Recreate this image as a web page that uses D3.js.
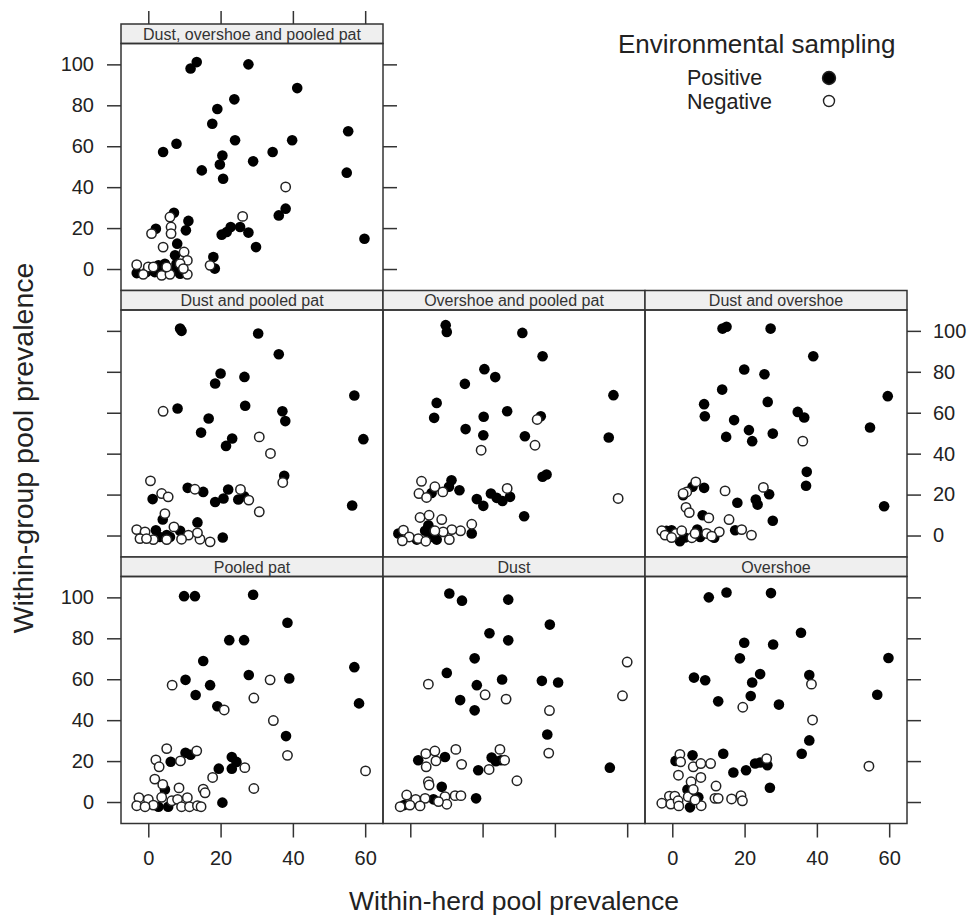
<!DOCTYPE html>
<html>
<head>
<meta charset="utf-8">
<script src="https://cdn.jsdelivr.net/npm/d3@7"></script>
<style>
    body { margin: 0; background: #fff; }
    svg text { font-family: "Liberation Sans", Arial, sans-serif; fill: #222; }
    .frame { fill: none; stroke: #333; stroke-width: 1.5; }
    .strip { fill: #efefef; stroke: #333; stroke-width: 1.5; }
    .axis line { stroke: #333; stroke-width: 1.5; }
    .axis text { font-size: 20px; }
</style>
</head>
<body>
<script>
(function () {

    // panel titles, in drawing order
    var panelNames = ["Dust, overshoe and pooled pat", "Dust and pooled pat", "Overshoe and pooled pat",
        "Dust and overshoe", "Pooled pat", "Dust", "Overshoe"];

    var groupNames = ["Positive", "Negative"];
    var xTicks = [0, 20, 40, 60];
    var yTicks = [0, 20, 40, 60, 80, 100];

    // [within-herd, within-group] pairs
    var posDOP = [[11.7,98],[13.4,101.1],[27.7,100],[41.2,88.4],[23.8,82.9],[19.1,78.2],[17.7,71],[7.8,61.2],
        [4.1,57.2],[24,62.9],[39.8,62.9],[55.3,67.3],[34.4,57.2],[20.5,55.5],[19.8,51.1],[29,52.6],[14.8,48.2],
        [20.7,44.1],[54.9,47.1],[38,29.5],[36.1,26.2],[59.8,14.8],[29.8,10.7],[27.7,17.8],[25.4,20.5],[22.8,20.5],
        [21.7,18.1],[20.3,16.8],[7.1,27.5],[11.1,23.5],[10.4,18.9],[2.1,19.7],[8,12.4],[7.4,6.7],[18,5.9],[18.4,0.2],
        [-3.2,-2],[-0.5,-1.5],[2.8,1.8],[3.7,1],[1.8,-1.5],[5.5,-1.5],[6.9,-0.7],[8.8,-2.3],[4.6,2.6],[7.8,2.6]];
    var negDOP = [[38,40.1],[26.1,25.7],[6,25.4],[6.3,20.5],[6.3,17.3],[0.9,17.3],[4.1,10.7],[9.9,8.3],[10.8,4.2],
        [8.8,2.6],[-3.2,2.1],[0,1],[-1.4,-2.6],[3.7,-3.1],[6,-2.6],[10.8,-2.6],[9.7,0.2],[17.1,1.8],[1.4,1],[5.1,1]];

    var posDP = [[8.8,101.1],[9.2,100],[30.4,98.7],[36.1,88.6],[20,79.2],[18.5,74.3],[26.6,77.5],[8.1,62.1],
        [26.8,63.4],[16.7,57.2],[37.1,60.7],[37.9,55.9],[14.6,50.3],[23.2,47.4],[21.5,43.8],[57,68.4],[59.5,47.1],
        [56.4,14.7],[37.6,29.2],[10.9,23.3],[15.2,21.3],[1.2,17.8],[18.5,16.4],[20.8,18.1],[22.1,22.5],[24.9,17.6],
        [26.5,19.2],[4,7.8],[13.6,6.4],[2.1,2.6],[5.1,0.2],[8.8,2.3],[6,-0.7],[20.6,-1],[3.2,-0.7]];
    var negDP = [[4.1,60.7],[30.7,48.2],[33.8,40.1],[37.2,25.9],[0.6,26.7],[3.7,20.5],[5.5,18.9],[12.9,22.6],
        [25.5,22.5],[27.8,17.3],[30.7,11.6],[4.6,10.7],[-3.2,2.9],[-0.9,1.8],[-2.3,-1.5],[1.4,-2],[7.1,4.2],
        [11.1,0.2],[14.3,-1.8],[17.1,-3.1],[13.6,1.3],[9.2,-1.8],[-0.5,-1.5],[5.1,-2]];

    var posOP = [[9.8,102.8],[10.1,99.5],[31,99],[36.6,87.6],[20.5,81.3],[23.5,77.4],[15.1,74.1],[7.3,64.8],
        [6.6,57.5],[20.3,58],[26.8,60.7],[36.1,58.3],[15.3,52],[20.2,49],[31.7,48.5],[56.2,68.6],[54.9,47.9],
        [37.7,29.8],[36.6,28.7],[31.5,9.4],[11.4,27],[10.7,23.8],[13.6,22.1],[5.9,20.8],[18.4,17.8],[20.2,14.5],
        [22.3,20.5],[23.9,18.4],[25.5,16.9],[27.6,18.9],[5,5],[4.1,2.3],[7.3,-2],[1.8,-2],[17,1],[-3.3,1],[5.5,-0.7]];
    var negOP = [[35.1,56.7],[34.5,44.1],[19.6,41.7],[57.5,18.1],[3.1,26.5],[6.8,23.8],[2.4,20.5],[4.5,18.6],
        [9,21.3],[26.8,23],[2.7,8.8],[5.2,9.9],[8.7,7.8],[17,5.5],[13.9,2.3],[11.5,2.9],[9.1,1.8],[-1.9,2.6],
        [-0.3,-0.7],[-2.2,-2.6],[2.2,-1.5],[4.3,-2.8],[10.8,-2],[6.8,2.3]];

    var posDO = [[13.9,101.1],[15,102],[27.2,101.1],[39,87.6],[19.9,81.1],[25.5,78.8],[13.8,71.3],[8.8,64.2],
        [9,58.3],[26.4,65.3],[17.1,56.4],[34.7,60.4],[36.5,57.7],[21.2,51.5],[14.9,48.2],[22.1,46.1],[27.8,49.8],
        [59.6,68.1],[54.7,52.8],[58.6,14.3],[37.2,31.1],[37,24.3],[3,19.7],[5.6,23.8],[8.8,23.3],[18,16],[23.1,17.6],
        [23.6,15.1],[26.8,20.2],[27.8,7.2],[8.4,9.9],[17.4,2.6],[-1.6,2.3],[-0.2,2.6],[2.1,-2.8],[3.5,-1],[6.9,2.9],
        [7.7,-0.7],[11.6,-1.1]];
    var negDO = [[36.1,46.1],[14.6,21.8],[25.2,23.5],[6.5,26.2],[4,21.3],[3,20.5],[3.8,13.7],[4.7,11.2],[10.1,8.6],
        [15.7,7.8],[19.2,2.9],[21.9,0.2],[13,1.8],[9.5,1],[-2.9,2.3],[-2,0.2],[1,1],[2.6,2.3],[5.4,-1.1],[6.3,1],
        [10.9,-0.3],[-0.2,-1]];

    var posP = [[9.9,100.6],[12.9,100.6],[29,101.3],[38.5,87.6],[22.4,79.1],[26.5,79.1],[15.2,68.9],[10.3,59.7],
        [27.8,62.1],[39,60.4],[17.1,57.1],[13.1,52.3],[19.1,46.8],[38.1,32.2],[57,65.9],[58.3,48.2],[10.3,24.1],
        [11.7,23.1],[6.2,19.7],[23.1,22],[24.4,19.6],[23.1,16.3],[19.5,16.3],[4.6,6.1],[2.8,-2.3],[5.5,-2.3],[20.5,-0.3]];
    var negP = [[6.6,57.1],[33.7,59.7],[29.2,50.8],[21,45],[34.6,39.8],[38.5,22.8],[60.1,15.2],[5.1,26.1],[2.1,20.6],
        [3,17.2],[8.9,20.1],[13.4,25],[26.7,16.8],[17.8,12],[29.2,6.6],[15.2,6.3],[15.7,4.5],[1.8,11.2],[4,8.6],
        [8.5,6.9],[-2.6,2.1],[-3.2,-1.8],[0,1.3],[1.4,-1.5],[3.7,2.3],[6.5,0.6],[8.1,1.3],[9.2,-2.3],[10.8,2.1],
        [11.4,-2.3],[13.6,-1.8],[14.6,-2.3],[-0.9,-2.3]];

    var posD = [[10.8,101.9],[14.3,98.4],[27.1,98.9],[38.6,86.7],[21.9,82.5],[27.1,79],[17.8,70.2],[10.1,63.1],
        [25.4,59.9],[36.4,59.2],[40.9,58.4],[18.4,57.1],[13.8,49.8],[17.8,44.8],[37.9,33],[55.2,16.8],[2.2,20.4],
        [9.6,22],[22.5,21.7],[23.7,19.9],[25.1,20.4],[18.8,15.5],[8.7,7.4],[6.4,1.3],[-1.7,-1.5],[18.2,1.8]];
    var negD = [[5,57.6],[20.7,52.4],[26.5,50.3],[38.5,44.7],[60,68.4],[58.7,51.9],[38.3,23.9],[24.8,25.7],
        [26.1,20.4],[12.6,25.7],[14.2,18.4],[21.8,15.9],[29.5,10.4],[4.3,23.6],[6.8,24.9],[7.1,20.1],[4.4,17.2],
        [5,9.9],[5.2,8.3],[-1,3.4],[1.5,1.3],[4.1,1.8],[9.6,2.6],[12.4,3.1],[14,3.1],[10.1,-1.1],[-2.8,-2.3],
        [-0.1,-1.5],[2.7,-1.9],[7.8,0.2]];

    var posO = [[10.1,100],[15,102.4],[27.3,102.1],[35.6,82.7],[19.9,77.8],[27.9,77],[18.7,70.2],[59.8,70.4],
        [6,60.8],[9.1,59.5],[24.3,62.5],[22.1,58.4],[37.9,62.1],[21.7,51.8],[12.7,49.2],[29.5,47.6],[56.7,52.4],
        [37.9,30.1],[35.8,23.6],[14.1,23.6],[5.6,22.8],[0.9,20.1],[16.9,14.4],[20.4,15.5],[22.9,18.8],[24.3,19.3],
        [26.3,18],[27,7],[4.2,6.1],[7.2,2.3],[4.9,-2.6]];
    var negO = [[38.5,57.6],[38.8,40.1],[19.5,46.3],[54.4,17.5],[2.1,23.3],[2.3,19.6],[5.8,17.2],[7.9,18.8],
        [10.6,18.8],[26.1,21.2],[1.7,13.1],[5.2,9.9],[7.9,12],[12.1,7.8],[11.8,1.8],[12.7,1.8],[16.4,1.5],[19,3.1],
        [19.4,0.6],[-2.9,-0.6],[-0.8,2.9],[0.7,2.9],[-0.4,-1],[1.6,0.6],[1.8,-1.9],[4.4,2.6],[5.8,6.1],[8,-1.8],[6.3,1]];

    var positives = [posDOP, posDP, posOP, posDO, posP, posD, posO];
    var negatives = [negDOP, negDP, negOP, negDO, negP, negD, negO];

    // lattice layout: [row, column] of each panel
    var layout = [[0, 0], [1, 0], [1, 1], [1, 2], [2, 0], [2, 1], [2, 2]];

    var width = 969,
        height = 915,
        left = 121,
        top = 24,
        colWidth = 262,
        rowHeight = 266.5,
        stripHeight = 19.5,
        tickLen = 14,
        radius = 5.3;

    var svg = d3.select("body")
        .append("svg")
        .attr("width", width)
        .attr("height", height);

    function xScaleFor(col) {
        return d3.scaleLinear()
            .domain([-7.55, 64.93])
            .range([left + col * colWidth, left + (col + 1) * colWidth]);
    };

    function yScaleFor(row) {
        var t = top + row * rowHeight;
        return d3.scaleLinear()
            .domain([-10.5, 110.2])
            .range([t + rowHeight, t + stripHeight]);
    };

    layout.forEach(function (pos, i) {
        var row = pos[0], col = pos[1];
        var x = xScaleFor(col), y = yScaleFor(row);
        var x0 = left + col * colWidth,
            t = top + row * rowHeight;

        var g = svg.append("g").attr("class", "panel");

        g.append("rect")
            .attr("class", "strip")
            .attr("x", x0)
            .attr("y", t)
            .attr("width", colWidth)
            .attr("height", stripHeight);

        g.append("text")
            .attr("x", x0 + colWidth / 2)
            .attr("y", t + stripHeight / 2)
            .attr("dy", "0.36em")
            .attr("text-anchor", "middle")
            .style("font-size", "16px")
            .style("fill", "#333")
            .text(panelNames[i]);

        g.selectAll(".pos")
            .data(positives[i])
            .enter()
            .append("circle")
            .attr("class", "pos")
            .attr("cx", function (d) { return x(d[0]); })
            .attr("cy", function (d) { return y(d[1]); })
            .attr("r", radius)
            .style("fill", "#000");

        g.selectAll(".neg")
            .data(negatives[i])
            .enter()
            .append("circle")
            .attr("class", "neg")
            .attr("cx", function (d) { return x(d[0]); })
            .attr("cy", function (d) { return y(d[1]); })
            .attr("r", radius - 0.6)
            .style("fill", "#fff")
            .style("stroke", "#222")
            .style("stroke-width", 1.5);

        g.append("rect")
            .attr("class", "frame")
            .attr("x", x0)
            .attr("y", t + stripHeight)
            .attr("width", colWidth)
            .attr("height", rowHeight - stripHeight);

        // axes, labels alternate like lattice does
        if (col == 0) {
            drawAxis(d3.axisLeft(y).tickValues(yTicks).tickPadding(13), "translate(" + x0 + ",0)", row != 1);
        }
        if (col == 2 || row == 0) {
            drawAxis(d3.axisRight(y).tickValues(yTicks).tickPadding(12), "translate(" + (x0 + colWidth) + ",0)", row == 1);
        }
        if (row == 2) {
            drawAxis(d3.axisBottom(x).tickValues(xTicks).tickPadding(13), "translate(0," + (t + rowHeight) + ")", col != 1);
        }
        if (row == 0) {
            drawAxis(d3.axisTop(x).tickValues(xTicks).tickSize(13), "translate(0," + t + ")", false);
        }
    });

    function drawAxis(axis, transform, withLabels) {
        axis.tickSizeOuter(0);
        if (axis.tickSizeInner() == 6) axis.tickSizeInner(tickLen);
        if (!withLabels) axis.tickFormat("");
        var a = svg.append("g")
            .attr("class", "axis")
            .attr("transform", transform)
            .call(axis);
        a.select(".domain").remove();
    };

    // axis titles
    svg.append("text")
        .attr("x", left + 1.5 * colWidth)
        .attr("y", 910)
        .attr("text-anchor", "middle")
        .style("font-size", "26.5px")
        .text("Within-herd pool prevalence");

    svg.append("text")
        .attr("transform", "translate(33,448) rotate(-90)")
        .attr("text-anchor", "middle")
        .style("font-size", "28.5px")
        .text("Within-group pool prevalence");

    // legend
    var legend = svg.append("g").attr("class", "legend");

    legend.append("text")
        .attr("x", 618)
        .attr("y", 53)
        .style("font-size", "26px")
        .text("Environmental sampling");

    legend.selectAll(".key")
        .data(groupNames)
        .enter()
        .append("text")
        .attr("class", "key")
        .attr("x", 687)
        .attr("y", function (d, i) { return 85 + i * 24; })
        .style("font-size", "21.5px")
        .text(function (d) { return d; });

    legend.selectAll(".sym")
        .data(groupNames)
        .enter()
        .append("circle")
        .attr("class", "sym")
        .attr("cx", 829)
        .attr("cy", function (d, i) { return 78 + i * 23; })
        .attr("r", function (d, i) { return i == 0 ? 6.5 : 5.5; })
        .style("fill", function (d, i) { return i == 0 ? "#000" : "#fff"; })
        .style("stroke", "#222")
        .style("stroke-width", 1.4);

})();
</script>
</body>
</html>
